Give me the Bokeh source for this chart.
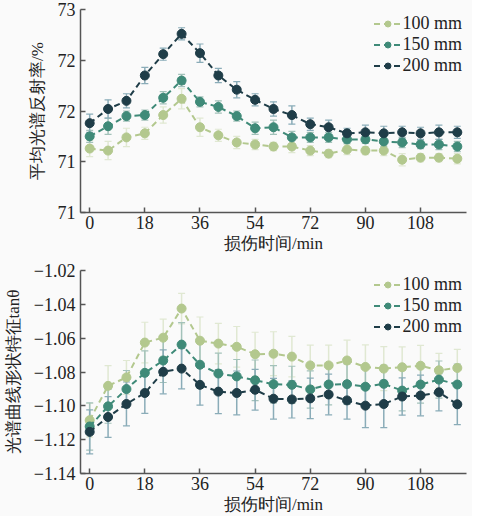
from bokeh.plotting import figure
from bokeh.layouts import column
from bokeh.models import (ColumnDataSource, Whisker, TeeHead, Legend, LegendItem,
                          FixedTicker, Range1d)
from bokeh.embed import file_html
from bokeh.resources import INLINE

# ---------------- data ----------------
time_min = [0, 6, 12, 18, 24, 30, 36, 42, 48, 54, 60, 66, 72, 78, 84, 90, 96, 102, 108, 114, 120]
series_labels = ["100 mm", "150 mm", "200 mm"]

refl_100 = [71.63, 71.61, 71.74, 71.78, 71.96, 72.12, 71.84, 71.76, 71.69, 71.67, 71.65,
            71.65, 71.61, 71.58, 71.62, 71.61, 71.61, 71.52, 71.54, 71.54, 71.53]
refl_150 = [71.75, 71.85, 71.95, 71.96, 72.13, 72.30, 72.09, 72.04, 71.95, 71.83, 71.84,
            71.74, 71.74, 71.74, 71.72, 71.72, 71.70, 71.69, 71.67, 71.67, 71.65]
refl_200 = [71.88, 72.02, 72.10, 72.35, 72.56, 72.76, 72.57, 72.35, 72.21, 72.11, 72.02,
            71.96, 71.87, 71.84, 71.78, 71.79, 71.78, 71.79, 71.78, 71.79, 71.79]
refl_err_100 = [0.08, 0.09, 0.09, 0.06, 0.08, 0.10, 0.09, 0.06, 0.06, 0.05, 0.04,
                0.06, 0.05, 0.04, 0.05, 0.04, 0.05, 0.06, 0.04, 0.04, 0.05]
refl_err_150 = [0.06, 0.08, 0.05, 0.05, 0.06, 0.06, 0.05, 0.06, 0.05, 0.06, 0.07,
                0.06, 0.05, 0.05, 0.04, 0.04, 0.05, 0.05, 0.04, 0.05, 0.05]
refl_err_200 = [0.09, 0.09, 0.07, 0.08, 0.06, 0.06, 0.09, 0.07, 0.08, 0.06, 0.07,
                0.09, 0.06, 0.07, 0.05, 0.07, 0.07, 0.06, 0.06, 0.07, 0.06]

tan_100 = [-1.1085, -1.0882, -1.0832, -1.0626, -1.0597, -1.0425, -1.0615, -1.0632, -1.0651,
           -1.0695, -1.0692, -1.0709, -1.0761, -1.0761, -1.0732, -1.0770, -1.0780, -1.0772,
           -1.0763, -1.0790, -1.0776]
tan_150 = [-1.1122, -1.1003, -1.0901, -1.0805, -1.0732, -1.0638, -1.0757, -1.0809, -1.0826,
           -1.0849, -1.0872, -1.0876, -1.0903, -1.0874, -1.0872, -1.0887, -1.0870, -1.0910,
           -1.0874, -1.0845, -1.0874]
tan_200 = [-1.1154, -1.1066, -1.0989, -1.0924, -1.0799, -1.0780, -1.0876, -1.0916, -1.0924,
           -1.0905, -1.0958, -1.0962, -1.0956, -1.0933, -1.0968, -1.0999, -1.0989, -1.0945,
           -1.0939, -1.0920, -1.0991]
tan_err_100 = [0.010, 0.012, 0.010, 0.012, 0.011, 0.009, 0.014, 0.012, 0.012, 0.013, 0.013,
               0.012, 0.012, 0.012, 0.012, 0.013, 0.013, 0.012, 0.012, 0.010, 0.011]
tan_err_150 = [0.014, 0.010, 0.011, 0.013, 0.013, 0.013, 0.014, 0.012, 0.010, 0.012, 0.011,
               0.011, 0.011, 0.012, 0.012, 0.011, 0.011, 0.012, 0.011, 0.011, 0.012]
tan_err_200 = [0.013, 0.012, 0.013, 0.012, 0.013, 0.012, 0.012, 0.013, 0.013, 0.012, 0.012,
               0.011, 0.012, 0.012, 0.011, 0.013, 0.014, 0.011, 0.012, 0.011, 0.012]

x_ticks = [0, 18, 36, 54, 72, 90, 108]
top_ticks = [71, 71.5, 72, 72.5, 73]
top_tick_labels = ["71", "71", "72", "72", "73"]
bot_ticks = [-1.14, -1.12, -1.10, -1.08, -1.06, -1.04, -1.02]
bot_tick_labels = ["\u22121.14", "\u22121.12", "\u22121.10", "\u22121.08", "\u22121.06",
                   "\u22121.04", "\u22121.02"]

# ---------------- style ----------------
colors = ["#b3c88e", "#3f8a78", "#1f3d48"]
err_colors = ["#e0e8d2", "#a3c2ba", "#8aacb8"]
BG = "#fafafa"
SERIF = "Liberation Serif"
TXT = "#222222"


def make_fig(height, yr, ticks, labels, ylab, series, errs, b_top, b_bottom):
    p = figure(width=472, height=height, output_backend="svg", toolbar_location=None,
               x_range=Range1d(-3, 123), y_range=Range1d(*yr),
               min_border_left=78, min_border_right=6, min_border_top=b_top,
               min_border_bottom=b_bottom)
    p.background_fill_color = BG
    p.border_fill_color = BG
    p.outline_line_color = None
    p.grid.grid_line_color = None

    for ax in (p.xaxis[0], p.yaxis[0]):
        ax.axis_line_color = "#555555"
        ax.axis_line_width = 1.5
        ax.major_tick_line_color = "#555555"
        ax.major_tick_line_width = 1.5
        ax.major_tick_in = 5
        ax.major_tick_out = 0
        ax.minor_tick_line_color = None
        ax.major_label_text_font = SERIF
        ax.major_label_text_font_size = "18px"
        ax.major_label_text_color = TXT
        ax.axis_label_text_font = SERIF
        ax.axis_label_text_font_size = "17px"
        ax.axis_label_text_font_style = "normal"
        ax.axis_label_text_color = TXT

    p.xaxis.ticker = FixedTicker(ticks=x_ticks)
    p.xaxis.major_label_standoff = 3
    p.xaxis.axis_label = "损伤时间/min"
    p.xaxis.axis_label_standoff = 2
    p.yaxis.ticker = FixedTicker(ticks=ticks)
    p.yaxis.major_label_overrides = {t: l for t, l in zip(ticks, labels)}
    p.yaxis.major_label_standoff = 5
    p.yaxis.axis_label = ylab
    p.yaxis.axis_label_standoff = 8

    items = []
    for lab, ys, es, c, ec in zip(series_labels, series, errs, colors, err_colors):
        src = ColumnDataSource(dict(x=time_min, y=ys,
                                    lo=[a - b for a, b in zip(ys, es)],
                                    hi=[a + b for a, b in zip(ys, es)]))
        w = Whisker(source=src, base="x", lower="lo", upper="hi", dimension="height",
                    line_color=ec, line_width=1.5,
                    upper_head=TeeHead(size=7, line_color=ec, line_width=1.2),
                    lower_head=TeeHead(size=7, line_color=ec, line_width=1.2))
        p.add_layout(w)
        lr = p.line("x", "y", source=src, line_color=c, line_width=2, line_dash="6 4")
        sr = p.scatter("x", "y", source=src, size=9, fill_color=c, line_color=c)
        items.append(LegendItem(label=lab, renderers=[lr, sr]))

    leg = Legend(items=items, location="top_right")
    leg.background_fill_alpha = 0
    leg.border_line_color = None
    leg.label_text_font = SERIF
    leg.label_text_font_size = "18px"
    leg.label_text_color = TXT
    leg.glyph_width = 28
    leg.glyph_height = 15
    leg.label_height = 15
    leg.label_standoff = 1
    leg.spacing = 0
    leg.padding = 0
    leg.margin = 4
    p.add_layout(leg)
    return p


p1 = make_fig(256, (71, 73), top_ticks, top_tick_labels, "平均光谱反射率/%",
              [refl_100, refl_150, refl_200], [refl_err_100, refl_err_150, refl_err_200],
              9, 44)
p2 = make_fig(260, (-1.14, -1.02), bot_ticks, bot_tick_labels, "光谱曲线形状特征tanθ",
              [tan_100, tan_150, tan_200], [tan_err_100, tan_err_150, tan_err_200],
              14, 38)

layout = column(p1, p2, spacing=0)
layout.background = BG
open("out.html", "w").write(file_html(layout, INLINE))
